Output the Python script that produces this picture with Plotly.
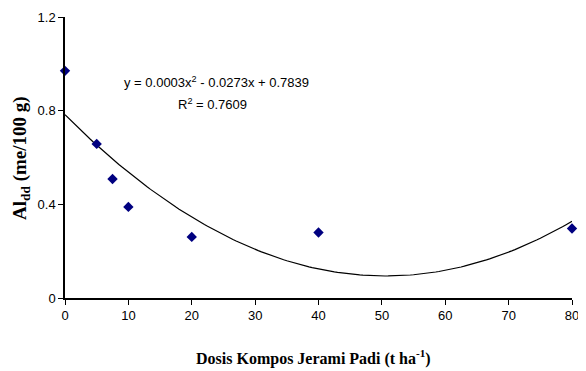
import numpy as np
import plotly.graph_objects as go

dose = [0, 5, 7.5, 10, 20, 40, 80]
al_dd = [0.97, 0.658, 0.508, 0.389, 0.261, 0.280, 0.297]
x_ticks = [0, 10, 20, 30, 40, 50, 60, 70, 80]
y_ticks = [0, 0.4, 0.8, 1.2]
y_tick_labels = ["0", "0.4", "0.8", "1.2"]
equation_text = "y = 0.0003x<sup>2</sup> - 0.0273x + 0.7839"
r2_text = "R<sup>2</sup> = 0.7609"
x_title = "<b>Dosis Kompos Jerami Padi (t ha<sup>-1</sup>)</b>"
y_title = "<b>Al<sub>dd</sub> (me/100 g)</b>"

coef = np.polyfit(dose, al_dd, 2)
xs = np.linspace(0, 80, 161)
ys = np.polyval(coef, xs)

sans = "Liberation Sans, Arial, sans-serif"
serif = "Liberation Serif, Times New Roman, serif"

fig = go.Figure()
fig.add_trace(go.Scatter(x=xs, y=ys, mode="lines",
                         line=dict(color="black", width=1.2), showlegend=False,
                         hoverinfo="skip"))
fig.add_trace(go.Scatter(x=dose, y=al_dd, mode="markers",
                         marker=dict(symbol="diamond", size=8, color="#000080"),
                         showlegend=False, cliponaxis=False))

fig.add_annotation(text=equation_text, xref="paper", yref="paper",
                   x=0.113, y=0.769, xanchor="left", yanchor="middle",
                   showarrow=False, font=dict(family=sans, size=13, color="black"))
fig.add_annotation(text=r2_text, xref="paper", yref="paper",
                   x=0.218, y=0.690, xanchor="left", yanchor="middle",
                   showarrow=False, font=dict(family=sans, size=13, color="black"))
fig.add_annotation(text=x_title, xref="paper", yref="paper",
                   x=0.49, y=-0.213, xanchor="center", yanchor="middle",
                   showarrow=False, font=dict(family=serif, size=16, color="black"))
fig.add_annotation(text=y_title, xref="paper", yref="paper", textangle=-90,
                   x=-0.088, y=0.5, xanchor="center", yanchor="middle",
                   showarrow=False, font=dict(family=serif, size=19, color="black"))

fig.update_layout(
    width=578, height=363,
    margin=dict(l=57, r=14, t=9, b=73),
    paper_bgcolor="white", plot_bgcolor="white",
    xaxis=dict(range=[0, 80], tickvals=x_ticks, showgrid=False, zeroline=False,
               automargin=False,
               showline=True, linecolor="black", linewidth=1.5,
               ticks="outside", ticklen=5, tickcolor="black",
               tickfont=dict(family=sans, size=13, color="black")),
    yaxis=dict(range=[0, 1.2], tickvals=y_ticks, ticktext=y_tick_labels,
               showgrid=False, zeroline=False, automargin=False,
               showline=True, linecolor="black", linewidth=1.5,
               ticks="outside", ticklen=5, tickcolor="black",
               tickfont=dict(family=sans, size=13, color="black")),
)
fig.write_html("out.html")
